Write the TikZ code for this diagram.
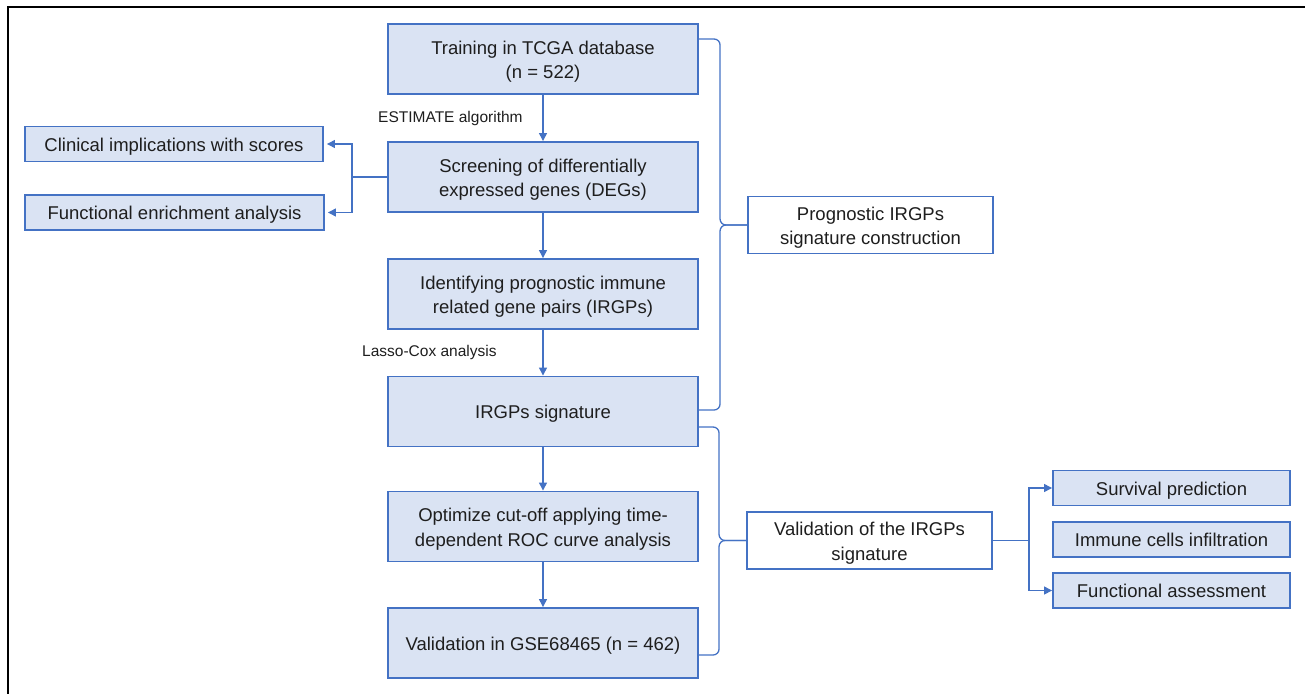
\documentclass[tikz,border=0pt]{standalone}
\usepackage{fontspec}
\setmainfont{Liberation Sans}
\usetikzlibrary{arrows.meta,calc}
\definecolor{boxfill}{RGB}{218,227,243}
\definecolor{boxline}{RGB}{68,114,196}
\definecolor{ink}{RGB}{30,30,30}
% centred lines, set slightly low inside their box while keeping the box size
\newcommand{\boxtext}[1]{\raisebox{-2.5bp}[\height][\depth]{\begin{tabular}{@{}c@{}}#1\end{tabular}}}
\begin{document}
\begin{tikzpicture}[x=1bp,y=-1bp,
  every node/.style={text=ink, font=\fontsize{18.5bp}{24.5bp}\selectfont},
  stage/.style={draw=boxline, line width=1.9bp, fill=boxfill,
                inner sep=0pt, minimum width=310bp, minimum height=70bp},
  sidebox/.style={draw=boxline, line width=1.9bp, fill=boxfill,
                inner sep=0pt, minimum height=35bp},
  groupbox/.style={draw=boxline, line width=1.9bp, fill=white,
                inner sep=0pt, minimum width=245bp, minimum height=57bp},
  steplabel/.style={anchor=west, inner sep=0pt, font=\fontsize{15.5bp}{18bp}\selectfont},
  conn/.style={draw=boxline, line width=1.3bp},
  flow/.style={conn, -{Triangle[width=8bp,length=8bp]}},
]
\useasboundingbox (0,0) rectangle (1305,694);

% page frame (top and left rules)
\draw[line width=2.6bp, line join=miter] (1305,7) -- (8,7) -- (8,694);

% main pipeline
\node[stage] (train) at (543,59)    {\boxtext{Training in TCGA database\\(n = 522)}};
\node[stage] (screen) at (543,177)  {\boxtext{Screening of differentially\\expressed genes (DEGs)}};
\node[stage] (ident) at (543,294)   {\boxtext{Identifying prognostic immune\\related gene pairs (IRGPs)}};
\node[stage] (sig) at (543,411.5)   {\boxtext{IRGPs signature}};
\node[stage] (optim) at (543,526.5) {\boxtext{Optimize cut-off applying time-\\dependent ROC curve analysis}};
\node[stage] (gse) at (543,643)     {\boxtext{Validation in GSE68465 (n = 462)}};

\node[steplabel] (estlab) at (378,118) {ESTIMATE algorithm};
\node[steplabel] (lassolab) at (362,352) {Lasso-Cox analysis};

\draw[flow] (train) -- (screen);
\draw[flow] (screen) -- (ident);
\draw[flow] (ident) -- (sig);
\draw[flow] (sig) -- (optim);
\draw[flow] (optim) -- (gse);

% DEG follow-up analyses
\node[sidebox, minimum width=298bp] (clin) at (174,144)   {\boxtext{Clinical implications with scores}};
\node[sidebox, minimum width=299bp] (enrich) at (174.5,212.5) {\boxtext{Functional enrichment analysis}};
\coordinate (degfork) at ($(screen.west)+(-35,0)$);
\draw[flow, shorten >=3bp] (screen.west) -- (degfork) |- (clin.east);
\draw[flow, shorten >=3bp] (degfork) |- (enrich.east);

% grouping boxes
\node[groupbox] (prog) at (870.5,225)   {\boxtext{Prognostic IRGPs\\signature construction}};
\node[groupbox] (valsig) at (869.5,540.5) {\boxtext{Validation of the IRGPs\\signature}};

% braces
\coordinate (tipA) at ($(prog.west)+(-27,0)$);
\draw[conn, rounded corners=6bp] ([yshift=20bp]train.east) -| (tipA) -- (prog.west);
\draw[conn, rounded corners=6bp] ([yshift=1.5bp]sig.east) -| (tipA) -- (prog.west);
\coordinate (tipB) at ($(valsig.west)+(-27,0)$);
\draw[conn, rounded corners=6bp] ([yshift=-15.5bp]sig.east) -| (tipB) -- (valsig.west);
\draw[conn, rounded corners=6bp] ([yshift=-12bp]gse.east) -| (tipB) -- (valsig.west);

% validation outcomes
\node[sidebox, minimum width=237bp] (surv) at (1171.5,488)   {\boxtext{Survival prediction}};
\node[sidebox, minimum width=237bp] (immune) at (1171.5,539.5) {\boxtext{Immune cells infiltration}};
\node[sidebox, minimum width=237bp] (funcas) at (1171.5,590.5) {\boxtext{Functional assessment}};
\coordinate (valfork) at ($(valsig.east)+(36,0)$);
\draw[flow] (valsig.east) -- (valfork) |- (surv.west);
\draw[flow] (valfork) |- (funcas.west);
\end{tikzpicture}
\end{document}
